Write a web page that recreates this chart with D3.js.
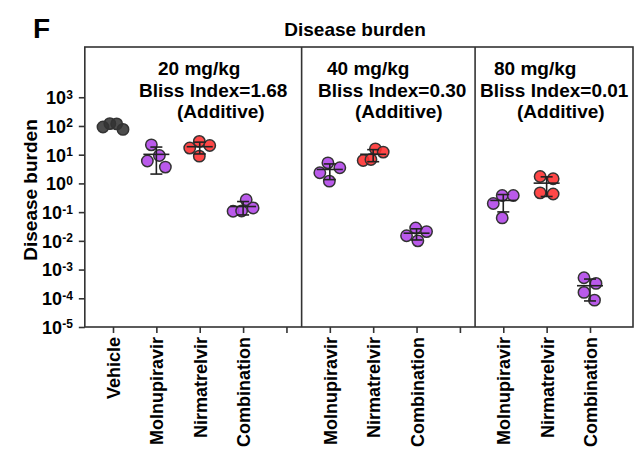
<!DOCTYPE html>
<html>
<head>
<meta charset="utf-8">
<script src="https://cdn.jsdelivr.net/npm/d3@7"></script>
<style>
  body { margin: 0; background: #fff; }
  text { font-family: "Liberation Sans", Arial, sans-serif; font-weight: bold; fill: #000; }
</style>
</head>
<body>
<script>
// categories along the x axis (blank slots separate the dose panels)
var slots = ["Vehicle","Molnupiravir","Nirmatrelvir","Combination","",
             "Molnupiravir","Nirmatrelvir","Combination","",
             "Molnupiravir","Nirmatrelvir","Combination"];

// panel annotations
var doses = ["20 mg/kg","40 mg/kg","80 mg/kg"];
var bliss = ["1.68","0.30","0.01"];
var effect = ["Additive","Additive","Additive"];

// disease burden per animal
var vehicle = [76, 121, 92, 118];
var mol20  = [22, 9.4, 6.0, 3.7];
var nir20  = [29, 21, 17, 8.9];
var comb20 = [0.27, 0.14, 0.107, 0.11];
var mol40  = [5.2, 3.5, 2.35, 1.2];
var nir40  = [16, 12.3, 6.3, 6.8];
var comb40 = [0.028, 0.021, 0.015, 0.010];
var mol80  = [0.38, 0.38, 0.20, 0.063];
var nir80  = [1.45, 1.74, 0.43, 0.47];
var comb80 = [3.3e-4, 5.2e-4, 1.6e-4, 8.6e-5];

var yTicks = [1e-5,1e-4,1e-3,1e-2,1e-1,1e0,1e1,1e2,1e3];

var groups = [
  {slot: 0,  values: vehicle, kind: "veh"},
  {slot: 1,  values: mol20,   kind: "mol"},
  {slot: 2,  values: nir20,   kind: "nir"},
  {slot: 3,  values: comb20,  kind: "mol"},
  {slot: 5,  values: mol40,   kind: "mol"},
  {slot: 6,  values: nir40,   kind: "nir"},
  {slot: 7,  values: comb40,  kind: "mol"},
  {slot: 9,  values: mol80,   kind: "mol"},
  {slot: 10, values: nir80,   kind: "nir"},
  {slot: 11, values: comb80,  kind: "mol"}
];
var panelStart = [0, 5, 9];

var fills = {veh: "#333333", mol: "#b043e8", nir: "#ff2e2e"};
var labelX = [[158,139,177],[327,318,355],[494,480,517]];

var W = 639, H = 456;
var svg = d3.select("body").append("svg").attr("width", W).attr("height", H);

var x = d3.scalePoint().domain(d3.range(slots.length)).range([113, 590]);
var step = x.step();
var y = d3.scaleLog().domain([1e-5, Math.pow(10, 4.75)]).range([327, 47]);

var frameL = x(0) - 0.65*step, frameR = 633, frameT = 47, frameB = y(1e-5);

// frame and panel dividers
svg.append("rect").attr("x", frameL).attr("y", frameT)
   .attr("width", frameR-frameL).attr("height", frameB-frameT)
   .attr("fill", "none").attr("stroke", "#333").attr("stroke-width", 1.6);
panelStart.slice(1).forEach(function(s){
  var px = x(s) - 0.65*step;
  svg.append("line").attr("x1", px).attr("x2", px).attr("y1", frameT).attr("y2", frameB)
     .attr("stroke", "#333").attr("stroke-width", 1.6);
});

// y axis
var yAxis = svg.append("g").attr("transform", "translate(" + frameL + ",0)")
  .call(d3.axisLeft(y).tickValues(yTicks).tickSize(6).tickFormat(""));
yAxis.select(".domain").remove();
yAxis.selectAll(".tick line").attr("stroke", "#333").attr("stroke-width", 1.6);
yAxis.selectAll(".tick").append("text")
  .attr("x", -12).attr("dy", "0.35em").attr("text-anchor", "end")
  .style("font-size", "18px")
  .each(function(d){
    var t = d3.select(this);
    var p = Math.round(Math.log10(d));
    t.append("tspan").text("10");
    t.append("tspan").attr("dy", "-0.45em").style("font-size", "12px")
     .text(p < 0 ? "-" + Math.abs(p) : p);
  });

// x axis
var xAxis = svg.append("g").attr("transform", "translate(0," + frameB + ")")
  .call(d3.axisBottom(x).tickSize(6).tickFormat(""));
xAxis.select(".domain").remove();
xAxis.selectAll(".tick line").attr("stroke", "#333").attr("stroke-width", 1.6);
xAxis.selectAll(".tick").append("text")
  .attr("transform", "rotate(-90)")
  .attr("x", -10).attr("y", 0).attr("dy", "0.36em")
  .attr("text-anchor", "end")
  .style("font-size", "18px")
  .text(function(d){ return slots[d]; });

// simple beeswarm so the dots sit side by side, squeezed to a max half-width
function swarm(ys, d, maxHalf){
  var order = d3.range(ys.length).sort(function(a,b){ return ys[a]-ys[b]; });
  var placed = [], off = [];
  order.forEach(function(i){
    var best = null;
    for (var k = 0; k <= 80 && best === null; k++) {
      [1,-1].forEach(function(s){
        if (best !== null) return;
        var dx = s*k*0.5;
        var ok = placed.every(function(p){ return (p.dx-dx)*(p.dx-dx) + (p.y-ys[i])*(p.y-ys[i]) >= d*d; });
        if (ok) best = dx;
      });
    }
    off[i] = best; placed.push({dx: best, y: ys[i]});
  });
  var ext = d3.extent(off), mid = (ext[0]+ext[1])/2, half = (ext[1]-ext[0])/2;
  var k = half > maxHalf ? maxHalf/half : 1;
  return off.map(function(o){ return (o - mid)*k; });
}

groups.forEach(function(g){
  var cx = x(g.slot);
  var ys = g.values.map(function(v){ return y(v); });
  var off = swarm(ys, 13, 10);
  var gg = svg.append("g");
  gg.selectAll("circle").data(g.values).enter().append("circle")
    .attr("cx", function(d,i){ return cx + off[i]; })
    .attr("cy", function(d){ return y(d); })
    .attr("r", 5.7)
    .attr("fill", fills[g.kind]).attr("fill-opacity", 0.88)
    .attr("stroke", "#333").attr("stroke-width", 1.5);

  if (g.kind === "veh") return;
  var m = d3.mean(g.values), sd = d3.deviation(g.values);
  var lo = Math.max(m - sd, 1e-6), hi = m + sd;
  var eb = svg.append("g").attr("stroke", "#222").attr("stroke-width", 1.6);
  eb.append("line").attr("x1", cx-13).attr("x2", cx+13).attr("y1", y(m)).attr("y2", y(m));
  eb.append("line").attr("x1", cx).attr("x2", cx).attr("y1", y(hi)).attr("y2", y(lo));
  eb.append("line").attr("x1", cx-6).attr("x2", cx+6).attr("y1", y(hi)).attr("y2", y(hi));
  eb.append("line").attr("x1", cx-6).attr("x2", cx+6).attr("y1", y(lo)).attr("y2", y(lo));
});

// panel annotations
doses.forEach(function(d, i){
  var lines = [d, "Bliss Index=" + bliss[i], "(" + effect[i] + ")"];
  lines.forEach(function(t, j){
    svg.append("text").attr("x", labelX[i][j]).attr("y", 75 + j*21.5)
       .style("font-size", "19px").text(t);
  });
});

// titles
svg.append("text").attr("x", 355).attr("y", 36).attr("text-anchor", "middle")
   .style("font-size", "19px").text("Disease burden");
svg.append("text").attr("transform", "translate(37,190) rotate(-90)")
   .attr("text-anchor", "middle").style("font-size", "19px").text("Disease burden");
svg.append("text").attr("x", 33).attr("y", 38).style("font-size", "28px").text("F");
</script>
</body>
</html>
